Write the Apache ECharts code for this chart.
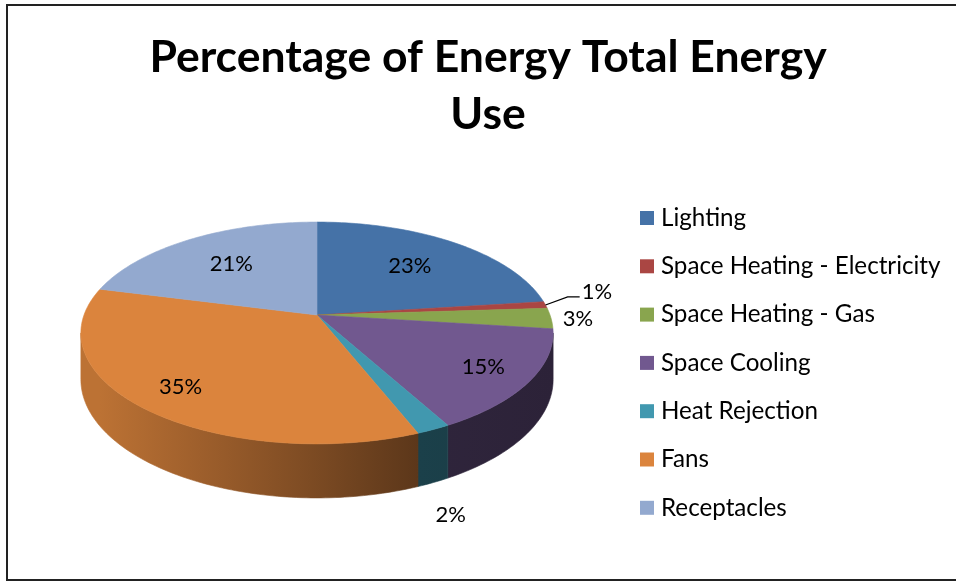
<!DOCTYPE html>
<html>
<head>
<meta charset="utf-8">
<script src="https://cdn.jsdelivr.net/npm/echarts@6/dist/echarts.min.js"></script>
<style>
  html, body { margin: 0; padding: 0; background: #fff; }
  #chart { width: 956px; height: 581px; }
</style>
</head>
<body>
<div id="chart"></div>
<script>
// Energy end-use breakdown
const categories = ['Lighting', 'Space Heating - Electricity', 'Space Heating - Gas', 'Space Cooling', 'Heat Rejection', 'Fans', 'Receptacles'];
const shares = [23, 1, 3, 15, 2, 35, 21];
const palette = ['#4572A7', '#AA4643', '#89A54E', '#71588F', '#4198AF', '#DB843D', '#93A9CF'];
const titleText = 'Percentage of Energy Total Energy\nUse';

const FONT = 'Lato, "Open Sans", sans-serif';

// Tilted-disc projection with a little perspective
const CX = 317, CY = 315;      // apex of the pie on screen
const RX = 233, RY = 108;      // horizontal / depth radius
const PERSP = 0.162;           // perspective strength
const DEPTH = 45.3;            // slab thickness
const PHI1 = Math.acos(-PERSP), PHI2 = 2 * Math.PI - PHI1; // visible wall range

function proj(k, phi) {
  const t = -k * Math.cos(phi);
  const s = 1 / (1 - PERSP * t);
  return [CX + RX * k * Math.sin(phi) * s, CY + RY * t * s, s];
}

const total = shares.reduce((a, b) => a + b, 0);
const startAngle = [], endAngle = [];
(function () {
  let acc = 0;
  shares.forEach(v => {
    startAngle.push(acc / total * 2 * Math.PI);
    acc += v;
    endAngle.push(acc / total * 2 * Math.PI);
  });
})();

function shadeColor(hex, f) {
  const n = parseInt(hex.slice(1), 16);
  const r = Math.round(((n >> 16) & 255) * f);
  const g = Math.round(((n >> 8) & 255) * f);
  const b = Math.round((n & 255) * f);
  return 'rgb(' + r + ',' + g + ',' + b + ')';
}

// side-wall lighting: bright on the left, dark on the right
function wallShade(x) {
  if (x <= 100) return 0.86;
  if (x >= 418) return Math.max(0.38, 0.42 - 0.03 * (x - 418) / 135);
  return 0.86 - 0.44 * (x - 100) / 318;
}

function wallFill(hex) {
  const x0 = CX - RX * 1.02, x1 = CX + RX * 1.02;
  const xs = [x0, 100, 200, 300, 418, x1];
  const stops = xs.map(x => ({ offset: (x - x0) / (x1 - x0), color: shadeColor(hex, wallShade(x)) }));
  return new echarts.graphic.LinearGradient(x0, 0, x1, 0, stops, true);
}

function arcPoints(a0, a1, k) {
  const pts = [];
  const n = Math.max(2, Math.ceil((a1 - a0) / (Math.PI / 180)));
  for (let j = 0; j <= n; j++) {
    const p = proj(k, a0 + (a1 - a0) * j / n);
    pts.push([p[0], p[1], p[2]]);
  }
  return pts;
}

function renderWall(params, api) {
  const i = params.dataIndex;
  const lo = Math.max(startAngle[i], PHI1), hi = Math.min(endAngle[i], PHI2);
  if (hi <= lo) return { type: 'group', children: [] };
  const top = arcPoints(lo, hi, 1);
  const pts = top.map(p => [p[0], p[1]]);
  for (let j = top.length - 1; j >= 0; j--) {
    pts.push([top[j][0], top[j][1] + DEPTH * top[j][2]]);
  }
  const fill = wallFill(palette[i]);
  return {
    type: 'polygon',
    shape: { points: pts },
    style: { fill: fill, stroke: fill, lineWidth: 0.6 },
    silent: true
  };
}

function renderTop(params, api) {
  const i = params.dataIndex;
  const pts = [[CX, CY]].concat(arcPoints(startAngle[i], endAngle[i], 1).map(p => [p[0], p[1]]));
  return {
    type: 'polygon',
    shape: { points: pts },
    style: { fill: palette[i], stroke: palette[i], lineWidth: 0.6 },
    silent: true
  };
}

// Data-label placement
const LABEL_SIZE = 22;
const LEGEND_SIZE = 24.2;
const measureCtx = document.createElement('canvas').getContext('2d');
measureCtx.font = LABEL_SIZE + 'px ' + FONT;

const labelInfo = shares.map((v, i) => {
  const mid = (startAngle[i] + endAngle[i]) / 2;
  const text = Math.round(v / total * 100) + '%';
  const w = measureCtx.measureText(text).width, h = 24;
  const front = -Math.cos(mid);
  if (v / total >= 0.05) {
    const p = proj(front > 0 ? 0.8 : 0.65, mid);
    return { text, cx: p[0], cy: p[1], w, h, inside: true, mid };
  }
  const p = proj(1.05, mid);
  let y = p[1];
  if (mid > PHI1 && mid < PHI2) y += DEPTH * p[2] + 14;
  return {
    text, w, h, inside: false, mid,
    cx: p[0] + Math.sin(mid) * w / 2 + (mid > PHI1 && mid < PHI2 ? 4 : 0),
    cy: y - Math.cos(mid) * h / 2
  };
});

// push crowded outside labels up and right, with a leader line back to the slice
(function () {
  const outs = labelInfo.filter(l => !l.inside);
  for (let a = 0; a < outs.length; a++) {
    for (let b = a + 1; b < outs.length; b++) {
      const A = outs[a], B = outs[b];
      if (Math.abs(A.cx - B.cx) < (A.w + B.w) / 2 && Math.abs(A.cy - B.cy) < (A.h + B.h) / 2) {
        A.cy = B.cy - B.h / 2 - 15;
        A.cx += 25;
        A.leader = true;
      }
    }
  }
})();

function renderLabel(params, api) {
  const i = params.dataIndex;
  const L = labelInfo[i];
  const children = [{
    type: 'text',
    style: {
      text: L.text, x: L.cx, y: L.cy,
      align: 'center', verticalAlign: 'middle',
      font: LABEL_SIZE + 'px ' + FONT, fill: '#000'
    },
    silent: true
  }];
  if (L.leader) {
    const e = proj(1, L.mid);
    const left = L.cx - L.w / 2;
    children.push({
      type: 'polyline',
      shape: { points: [[e[0], e[1]], [left - 14, L.cy + 5], [left - 2, L.cy + 5]] },
      style: { stroke: '#000', lineWidth: 1.3, fill: null },
      silent: true
    });
  }
  return { type: 'group', children };
}

const seriesData = shares.map((v, i) => ({ name: categories[i], value: v }));

// Legend on the right
const LEGEND_X = 640, LEGEND_Y = 218, LEGEND_STEP = 48.3;
const legendGraphics = [];
categories.forEach((name, i) => {
  const y = LEGEND_Y + i * LEGEND_STEP;
  legendGraphics.push({
    type: 'rect', shape: { x: LEGEND_X, y: y - 7, width: 14, height: 14 },
    style: { fill: palette[i] }, silent: true
  });
  legendGraphics.push({
    type: 'text', x: LEGEND_X + 21, y: y,
    style: { text: name, font: LEGEND_SIZE + 'px ' + FONT, fill: '#000', verticalAlign: 'middle' },
    silent: true
  });
});

// Two-line title, centred over the chart area
const titleGraphic = {
  type: 'text', x: 488, y: 29,
  style: {
    text: titleText, align: 'center', verticalAlign: 'top',
    font: 'bold 44.5px ' + FONT, lineHeight: 57, fill: '#000'
  },
  silent: true
};

const chart = echarts.init(document.getElementById('chart'), null, { renderer: 'canvas' });
chart.setOption({
  backgroundColor: '#fff',
  animation: false,
  graphic: [{
    type: 'rect', shape: { x: 7, y: 5, width: 960, height: 575 },
    style: { fill: null, stroke: '#222', lineWidth: 2 }, silent: true
  }, titleGraphic].concat(legendGraphics),
  series: [
    { type: 'custom', coordinateSystem: 'none', z: 1, renderItem: renderWall, data: seriesData },
    { type: 'custom', coordinateSystem: 'none', z: 2, renderItem: renderTop, data: seriesData },
    { type: 'custom', coordinateSystem: 'none', z: 3, renderItem: renderLabel, data: seriesData }
  ]
});
</script>
</body>
</html>
